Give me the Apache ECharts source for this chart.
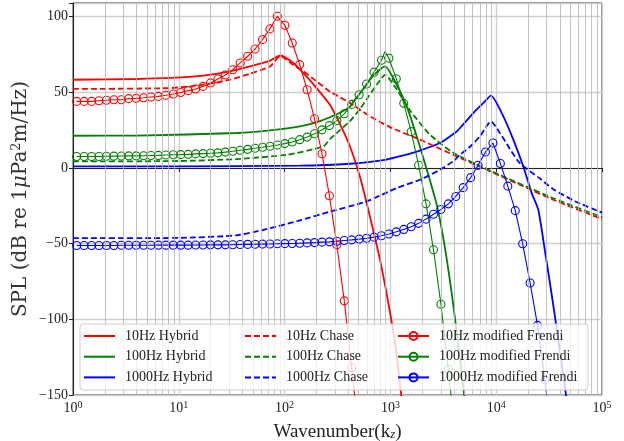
<!DOCTYPE html>
<html>
<head>
<meta charset="utf-8">
<script src="https://cdn.jsdelivr.net/npm/echarts@6/dist/echarts.min.js"></script>
<style>html,body{margin:0;padding:0;background:#fff}#main{width:624px;height:441px}</style>
</head>
<body>
<div id="main"></div>
<script>
var FONT = 'Liberation Serif, DejaVu Serif, serif';
var YFONT = 'DejaVu Serif, serif';

// x positions (kz) of the modified Frendi markers
var kzFrendi = [1.083, 1.274, 1.497, 1.760, 2.069, 2.432, 2.859, 3.361, 3.952, 4.645,
    5.461, 6.421, 7.548, 8.874, 10.43, 12.26, 14.42, 16.95, 19.93, 23.42,
    27.54, 32.37, 38.06, 44.75, 52.60, 61.85, 72.71, 85.47, 100.5, 118.1,
    138.9, 163.3, 191.9, 225.6, 265.2, 311.8, 366.6, 430.9, 506.6, 595.5,
    700.1, 823.1, 967.4, 1137, 1337, 1572, 1848, 2172, 2554, 3002,
    3529, 4150, 4878, 5735, 6742, 7925, 9318, 10950, 12880, 15140,
    17800, 20920, 24590, 28910, 33990];

var frendi10 = [44.0, 44.0, 44.0, 44.4, 44.7, 45.1, 45.1, 45.8, 46.0, 46.4,
    46.9, 47.3, 48.0, 48.9, 49.9, 51.1, 52.2, 53.9, 56.2, 58.8,
    61.4, 64.9, 69.4, 73.8, 78.6, 84.8, 91.9, 100.2, 94.3, 82.6,
    68.3, 51.7, 32.5, 9.4, -18.4, -50.8, -87.8, -132, -178];

var frendi100 = [7.6, 7.6, 7.6, 7.6, 7.7, 7.8, 7.9, 8.0, 8.0, 8.1,
    8.2, 8.3, 8.6, 8.7, 8.8, 9.0, 9.3, 9.5, 9.7, 10.0,
    10.5, 11.0, 11.7, 12.3, 13.0, 13.7, 14.4, 15.2, 16.1, 17.2,
    18.7, 20.4, 22.6, 25.2, 28.0, 31.3, 35.8, 42.0, 48.4, 55.5,
    63.3, 71.2, 72.5, 59.0, 42.7, 24.0, 1.8, -23.7, -54.0, -90.0,
    -133, -180];
var frendi100Peak = [889, 77.0];

var frendi1000 = [-51.2, -51.2, -51.2, -51.2, -51.2, -51.2, -51.1, -51.1, -51.1, -51.1,
    -51.1, -51.0, -51.0, -51.0, -51.0, -51.0, -50.9, -50.9, -50.8, -50.8,
    -50.8, -50.7, -50.6, -50.5, -50.4, -50.3, -50.2, -50.1, -50.0, -49.9,
    -49.7, -49.5, -49.3, -49.0, -48.8, -48.4, -47.9, -47.5, -47.0, -46.4,
    -45.7, -44.8, -43.6, -42.2, -40.6, -38.8, -36.6, -33.8, -30.6, -27.4,
    -23.7, -18.8, -13.0, -6.4, 1.8, 10.6, 16.5, 3.0, -12.0, -28.2,
    -50.1, -76, -104, -140, -185];

var hybrid10 = [[1, 58.3], [4, 58.8], [8.3, 59.5], [17, 61.0], [30.5, 63.8], [47, 67.1],
    [72.8, 70.9], [91.5, 74.3], [120.8, 69.4], [150, 62.8], [201, 52.8], [268, 41.8],
    [334, 29], [415, 14.2], [516, -6], [618, -27.6], [798, -60.7], [982, -93.7],
    [1130, -120], [1265, -150], [1374, -172]];
var hybrid100 = [[1, 21.3], [4, 21.4], [35.3, 23.1], [72.8, 24.8], [139.9, 27.5], [216, 31],
    [334, 36.5], [415, 40.5], [443, 43.5], [539, 51], [670, 60], [889, 67.1],
    [1147, 55], [1426, 40.7], [1773, 21], [2205, -1], [2756, -25], [3281, -53],
    [3990, -94], [4985, -150], [5412, -175]];
var hybrid1000 = [[1, 1.0], [10, 1.1], [139.9, 1.5], [415, 2.8], [857, 5.2], [1532, 9.5],
    [1905, 11.5], [2943, 16.5], [4234, 24.1], [4548, 26.4], [6076, 36.3], [7554, 42.9],
    [8929, 47.8], [11680, 34.1], [14510, 18.7], [18040, 1], [21650, -16.6], [24990, -27.6],
    [28920, -55], [35170, -93.7], [45710, -150], [50000, -175]];

var chase10 = [[1, 52.2], [8.3, 52.8], [17, 55], [30.5, 58.3], [47, 62.3], [72.8, 67.1],
    [91.5, 74], [120.8, 68], [150, 64], [201, 57.2], [268, 50.5], [415, 43],
    [597, 35.5], [991, 27], [1905, 18.7], [3930, 8.7], [8131, -1.2], [16790, -11.1],
    [34650, -21], [100000, -33.8]];
var chase100 = [[1, 4.3], [10, 4.6], [35.3, 5.9], [104.7, 8.7], [232, 14.2], [268, 19],
    [334, 25], [415, 31], [516, 39], [618, 47], [760, 56], [889, 61.5],
    [1147, 52], [1532, 38], [2367, 22], [3930, 10], [8131, -0.7], [16790, -10.5],
    [34650, -20], [100000, -32.5]];
var chase1000 = [[1, -46.4], [10, -46.2], [35.3, -44.5], [62.9, -40.9], [133.9, -35], [268, -28.8],
    [575, -22.5], [1147, -13.3], [1905, -7.8], [2943, -1.2], [3930, 4.5], [4548, 8.7],
    [5654, 14], [7031, 21], [8929, 30.8], [10860, 23], [13500, 12.5], [16790, 3],
    [25920, -7], [34650, -14], [55590, -22], [100000, -29.5]];

var minorX = [];
for (var d = 1; d < 100000; d *= 10) {
    for (var m = 2; m <= 9; m++) minorX.push(m * d);
}

function frendiData(ys, peak) {
    var out = ys.map(function (y, i) { return [kzFrendi[i], y]; });
    if (peak) {
        for (var i = 0; i < out.length; i++) {
            if (out[i][0] > peak[0]) break;
        }
        out.splice(i, 0, {value: peak, symbol: 'none'});
    }
    return out;
}

function solid(name, color, data) {
    return {name: name, type: 'line', data: data, symbol: 'none', smooth: 0.2, z: 3,
        lineStyle: {color: color, width: 1.8}, itemStyle: {color: color}};
}
function dashed(name, color, data) {
    return {name: name, type: 'line', data: data, symbol: 'none', smooth: 0.2, z: 3,
        lineStyle: {color: color, width: 1.8, type: [6, 3]}, itemStyle: {color: color}};
}
function circles(name, color, data) {
    return {name: name, type: 'line', data: data, symbol: 'circle', symbolSize: 8, z: 4,
        lineStyle: {color: color, width: 1.1},
        itemStyle: {color: 'rgba(0,0,0,0)', borderColor: color, borderWidth: 1.1}};
}

var legendText = {fontFamily: FONT, fontSize: 14, color: '#222', lineHeight: 14, padding: [0, 0, 0, 5]};
function legendCol(names, left, hideSymbol) {
    var l = {data: names, orient: 'vertical', left: left, top: 329, itemWidth: 31, itemHeight: 10,
        itemGap: 6.7, padding: 0, textStyle: legendText, z: 200};
    if (hideSymbol) l.itemStyle = {opacity: 0};
    return l;
}

var myChart = echarts.init(document.getElementById('main'));
var option = {
    animation: false,
    grid: {left: 73, right: 22, top: 3, bottom: 46, show: true, borderColor: '#222', borderWidth: 1,
        containLabel: false, outerBoundsMode: 'none'},
    graphic: [{type: 'rect', z: 100,
        shape: {x: 80, y: 324, width: 508, height: 66, r: 3},
        style: {fill: 'rgba(255,255,255,0.8)', stroke: '#cccccc', lineWidth: 1}}],
    legend: [
        legendCol(['10Hz Hybrid', '100Hz Hybrid', '1000Hz Hybrid'], 83, true),
        legendCol(['10Hz Chase', '100Hz Chase', '1000Hz Chase'], 244, true),
        legendCol(['10Hz modified Frendi', '100Hz modified Frendi', '1000Hz modified Frendi'], 397, false)
    ],
    xAxis: {
        type: 'log', logBase: 10, min: 1, max: 100000,
        axisLine: {show: true, lineStyle: {color: '#222', width: 1}},
        axisTick: {show: true, inside: false, length: 4, lineStyle: {color: '#222'}},
        axisLabel: {
            margin: 5, color: '#222',
            formatter: function (v) {
                return '{b|10}{s|' + Math.round(Math.log10(v)) + '}';
            },
            rich: {
                b: {fontFamily: FONT, fontSize: 14, color: '#222'},
                s: {fontFamily: FONT, fontSize: 10, color: '#222', padding: [0, 0, 7, 0]}
            }
        },
        splitLine: {show: true, lineStyle: {color: '#cfcfcf', width: 1.4}},
        name: 'Wavenumber(k{sub|z})', nameLocation: 'middle', nameGap: 28,
        nameTextStyle: {fontFamily: FONT, fontSize: 19, color: '#222',
            rich: {sub: {fontFamily: FONT, fontSize: 13, fontStyle: 'italic', color: '#222', padding: [0, 0, -5, 0]}}}
    },
    yAxis: {
        type: 'value', min: -150, max: 109, interval: 50,
        axisLine: {show: true, lineStyle: {color: '#222', width: 1}},
        axisTick: {show: true, inside: false, length: 4, lineStyle: {color: '#222'}},
        axisLabel: {
            margin: 5, fontFamily: FONT, fontSize: 14, color: '#222',
            formatter: function (v) {
                if (v % 50 !== 0) return '';
                return v < 0 ? '\u2212' + (-v) : String(v);
            }
        },
        splitLine: {show: true, lineStyle: {color: '#cfcfcf', width: 1.4}},
        name: 'SPL (dB re 1{it|\u03bc}Pa{sup|2}m/Hz)', nameLocation: 'middle', nameGap: 41,
        nameMoveOverlap: false,
        nameTextStyle: {fontFamily: YFONT, fontSize: 20, fontWeight: 'normal', color: '#333',
            rich: {
                it: {fontFamily: YFONT, fontSize: 20, fontStyle: 'italic', color: '#333'},
                sup: {fontFamily: YFONT, fontSize: 13, color: '#333', padding: [0, 0, 9, 0]}
            }}
    },
    series: [
        {type: 'line', data: [], z: 1, silent: true,
            markLine: {silent: true, symbol: ['none', 'none'], label: {show: false},
                lineStyle: {color: '#b4b4b4', width: 0.8, type: 'solid'},
                data: minorX.map(function (v) { return {xAxis: v}; })}},
        solid('10Hz Hybrid', '#ff0000', hybrid10),
        solid('100Hz Hybrid', '#008000', hybrid100),
        solid('1000Hz Hybrid', '#0000ff', hybrid1000),
        dashed('10Hz Chase', '#ff0000', chase10),
        dashed('100Hz Chase', '#008000', chase100),
        dashed('1000Hz Chase', '#0000ff', chase1000),
        circles('10Hz modified Frendi', '#ff0000', frendiData(frendi10)),
        circles('100Hz modified Frendi', '#008000', frendiData(frendi100, frendi100Peak)),
        circles('1000Hz modified Frendi', '#0000ff', frendiData(frendi1000))
    ]
};
myChart.setOption(option);
</script>
</body>
</html>
